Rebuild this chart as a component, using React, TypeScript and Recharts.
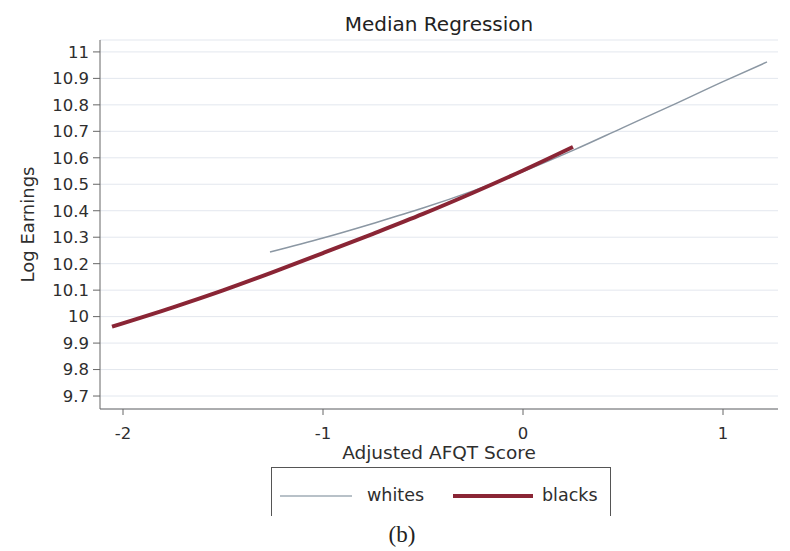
import { LineChart, Line, XAxis, YAxis, CartesianGrid } from 'recharts';

// median regression fits
const whiteScores = [-1.265, -1.0, -0.75, -0.5, -0.25, 0, 0.25, 0.5, 0.75, 1.0, 1.22];
const whiteEarnings = [10.244, 10.297, 10.352, 10.41, 10.475, 10.548, 10.628, 10.714, 10.8, 10.888, 10.962];

const blackScores = [-2.055, -1.75, -1.5, -1.25, -1.0, -0.75, -0.5, -0.25, 0, 0.25];
const blackEarnings = [9.962, 10.035, 10.099, 10.168, 10.24, 10.313, 10.388, 10.468, 10.552, 10.641];

const scoreTicks = [-2, -1, 0, 1];
const earningsTicks = [9.7, 9.8, 9.9, 10, 10.1, 10.2, 10.3, 10.4, 10.5, 10.6, 10.7, 10.8, 10.9, 11];

const whitesData = whiteScores.map((score, i) => ({ score, earnings: whiteEarnings[i] }));
const blacksData = blackScores.map((score, i) => ({ score, earnings: blackEarnings[i] }));

const textColor = '#2e2e2e';
const whiteColor = '#8b97a3';
const blackColor = '#8a2535';

export default function App() {
    return (
        <div
            style={{
                position: 'absolute',
                left: 0,
                top: 0,
                width: 790,
                height: 551,
                background: '#fff',
                fontFamily: '"DejaVu Sans", sans-serif',
                color: textColor,
            }}
        >
            <LineChart width={790} height={551} margin={{ top: 40, right: 12, bottom: 92, left: 0 }}>
                <CartesianGrid vertical={false} stroke="#e3e7ee" />
                <XAxis
                    type="number"
                    dataKey="score"
                    domain={[-2.115, 1.275]}
                    ticks={scoreTicks}
                    allowDataOverflow
                    height={50}
                    tickSize={6}
                    tickMargin={12}
                    stroke="#666"
                    tick={{ fill: textColor, fontSize: 16.5 }}
                    label={{ value: 'Adjusted AFQT Score', position: 'insideBottom', offset: 0, fill: textColor, fontSize: 18.5 }}
                />
                <YAxis
                    type="number"
                    dataKey="earnings"
                    domain={[9.651, 11.045]}
                    ticks={earningsTicks}
                    allowDataOverflow
                    width={100}
                    tickSize={7}
                    tickMargin={4}
                    stroke="#666"
                    tick={{ fill: textColor, fontSize: 16.5 }}
                    label={{
                        value: 'Log Earnings',
                        angle: -90,
                        position: 'insideLeft',
                        offset: 28,
                        fill: textColor,
                        fontSize: 18,
                        style: { textAnchor: 'middle' },
                    }}
                />
                <Line
                    data={whitesData}
                    dataKey="earnings"
                    type="monotone"
                    stroke={whiteColor}
                    strokeWidth={1.5}
                    dot={false}
                    isAnimationActive={false}
                />
                <Line
                    data={blacksData}
                    dataKey="earnings"
                    type="monotone"
                    stroke={blackColor}
                    strokeWidth={4}
                    dot={false}
                    isAnimationActive={false}
                />
            </LineChart>

            <div
                style={{
                    position: 'absolute',
                    left: 100,
                    width: 678,
                    top: 12,
                    textAlign: 'center',
                    fontSize: 20,
                    lineHeight: '24px',
                    color: '#222',
                }}
            >
                Median Regression
            </div>

            {/* legend box, bottom edge is cropped in the original */}
            <div
                style={{
                    position: 'absolute',
                    left: 271,
                    top: 467,
                    width: 338,
                    height: 48,
                    borderTop: '1px solid #555',
                    borderLeft: '1px solid #555',
                    borderRight: '1px solid #555',
                }}
            />
            <div style={{ position: 'absolute', left: 280, top: 495, width: 72, height: 2, background: '#b8c1c8' }} />
            <div style={{ position: 'absolute', left: 367, top: 484, fontSize: 17.5, lineHeight: '22px' }}>whites</div>
            <div style={{ position: 'absolute', left: 453, top: 494, width: 80, height: 4, background: blackColor }} />
            <div style={{ position: 'absolute', left: 542, top: 484, fontSize: 17.5, lineHeight: '22px' }}>blacks</div>

            <div
                style={{
                    position: 'absolute',
                    left: 352,
                    width: 100,
                    top: 522,
                    textAlign: 'center',
                    fontFamily: '"Liberation Serif", serif',
                    fontSize: 23,
                    lineHeight: '26px',
                    color: '#222',
                }}
            >
                (b)
            </div>
        </div>
    );
}
